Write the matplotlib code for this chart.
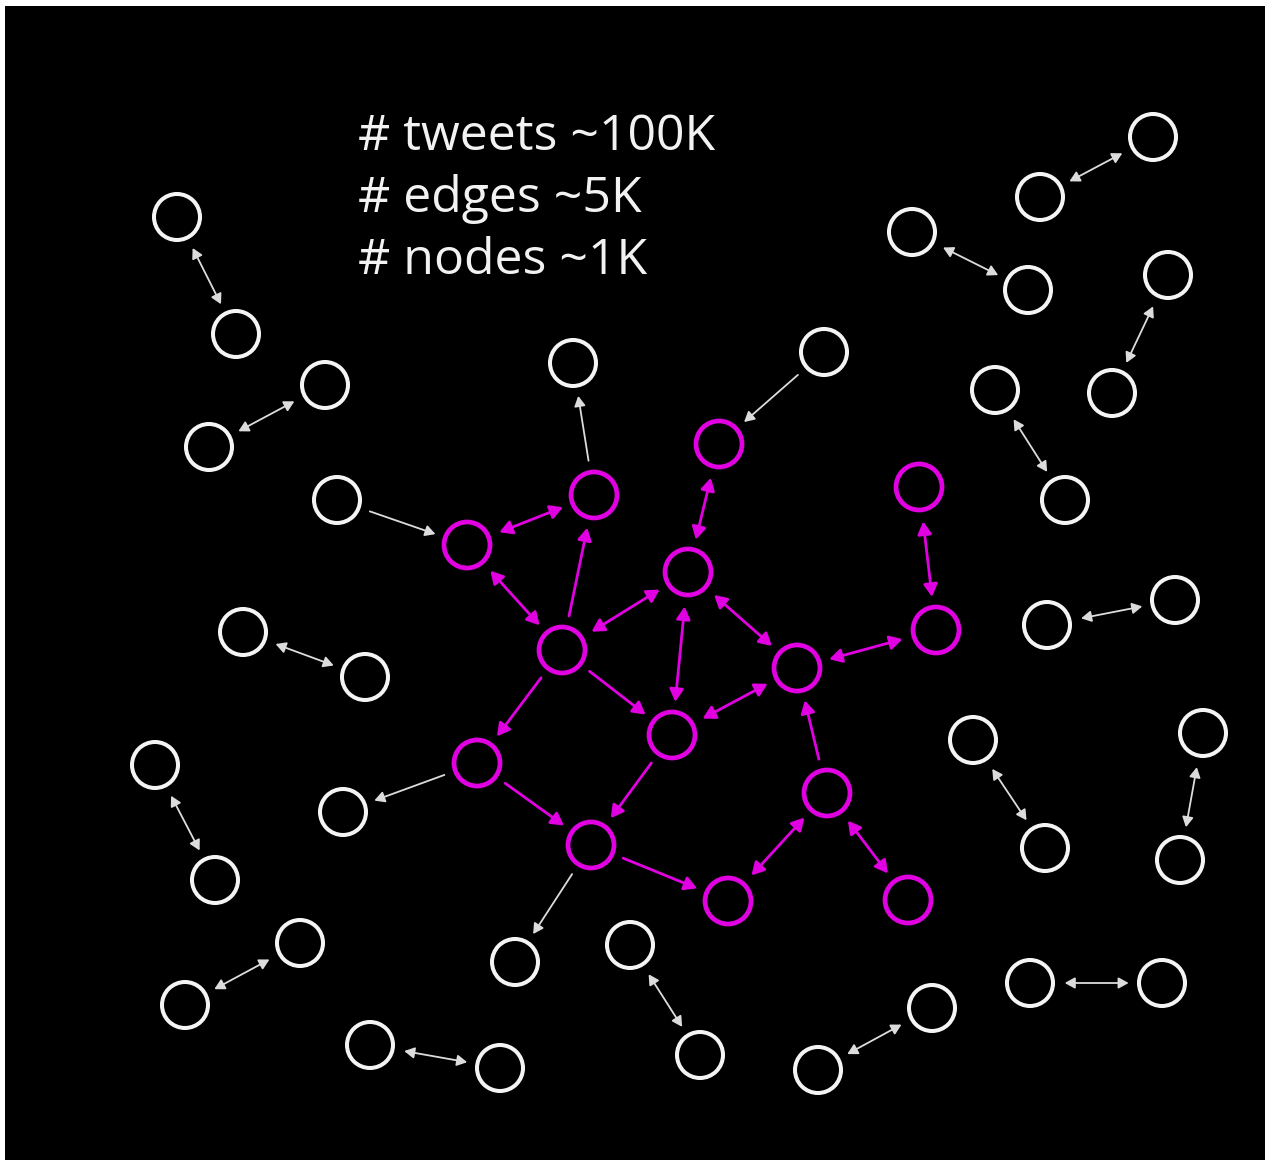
import matplotlib
matplotlib.use("Agg")
import matplotlib.pyplot as plt
from matplotlib.patches import Circle, FancyArrowPatch

# ---- data ----
# node name -> (x, y) in picture coordinates
magenta_nodes = {
    "A": (467, 545), "B": (594, 495), "C": (719, 444), "D": (919, 487),
    "E": (688, 572), "F": (562, 650), "G": (936, 630), "H": (797, 668),
    "I": (672, 735), "J": (477, 763), "K": (827, 793), "L": (591, 845),
    "M": (728, 901), "N": (908, 900),
}
white_nodes = {
    "W1": (337, 500), "W2": (573, 363), "W3": (824, 352),
    "W4": (343, 812), "W5": (515, 962),
    "P1a": (177, 217), "P1b": (236, 334),
    "P2a": (325, 385), "P2b": (209, 447),
    "P3a": (1153, 137), "P3b": (1040, 197),
    "P4a": (912, 232), "P4b": (1028, 290),
    "P5a": (1168, 275), "P5b": (1112, 393),
    "P6a": (995, 390), "P6b": (1065, 500),
    "P7a": (1047, 625), "P7b": (1175, 600),
    "P8a": (243, 632), "P8b": (365, 677),
    "P9a": (155, 765), "P9b": (215, 880),
    "P10a": (973, 740), "P10b": (1045, 848),
    "P11a": (1203, 733), "P11b": (1180, 860),
    "P12a": (300, 943), "P12b": (185, 1005),
    "P13a": (1030, 983), "P13b": (1162, 983),
    "P14a": (370, 1045), "P14b": (500, 1068),
    "P15a": (630, 945), "P15b": (700, 1055),
    "P16a": (932, 1008), "P16b": (818, 1070),
}
# (source, target, bidirectional)
magenta_edges = [
    ("A", "B", True), ("A", "F", True), ("F", "B", False), ("F", "E", True),
    ("C", "E", True), ("D", "G", True), ("E", "I", True), ("E", "H", True),
    ("G", "H", True), ("I", "H", True), ("F", "I", False), ("F", "J", False),
    ("J", "L", False), ("I", "L", False), ("L", "M", False), ("M", "K", True),
    ("K", "H", False), ("K", "N", True),
]
white_edges = [
    ("W1", "A", False), ("B", "W2", False), ("W3", "C", False),
    ("J", "W4", False), ("L", "W5", False),
] + [(f"P{i}a", f"P{i}b", True) for i in range(1, 17)]

stats_lines = ["# tweets ~100K", "# edges ~5K", "# nodes ~1K"]

# ---- style ----
W, H = 1265, 1160
MAGENTA = "#e100e1"
WHITE = "#f4f4f4"
ARROW_WHITE = "#dcdcdc"
R = 23

fig = plt.figure(figsize=(W / 100, H / 100), dpi=100, facecolor="white")
ax = fig.add_axes([5 / W, 0, (W - 5) / W, (H - 6) / H])
ax.set_facecolor("black")
ax.set_xlim(5, W)
ax.set_ylim(H, 6)
ax.axis("off")
ax.add_patch(plt.Rectangle((5, 6), W, H, color="black", zorder=0))

all_nodes = {**magenta_nodes, **white_nodes}

def draw_edge(s, t, bi, color, lw, hl, hw):
    head = f"head_length={hl},head_width={hw}"
    style = f"<|-|>,{head}" if bi else f"-|>,{head}"
    p = FancyArrowPatch(all_nodes[s], all_nodes[t], arrowstyle=style,
                        color=color, lw=lw, shrinkA=25, shrinkB=24,
                        mutation_scale=10, zorder=2)
    ax.add_patch(p)

for s, t, bi in magenta_edges:
    draw_edge(s, t, bi, MAGENTA, 2.0, 0.75, 0.42)
for s, t, bi in white_edges:
    draw_edge(s, t, bi, ARROW_WHITE, 1.3, 0.6, 0.33)

for name, (x, y) in white_nodes.items():
    ax.add_patch(Circle((x, y), R, fill=False, ec=WHITE, lw=2.9, zorder=3))
for name, (x, y) in magenta_nodes.items():
    ax.add_patch(Circle((x, y), R, fill=False, ec=MAGENTA, lw=3.4, zorder=3))

for i, line in enumerate(stats_lines):
    ax.text(358, 150 + 62 * i, line, color="#f2f2f2", fontsize=36,
            family="Open Sans", va="baseline", ha="left")

fig.savefig("out.png", dpi=100, facecolor="white")
